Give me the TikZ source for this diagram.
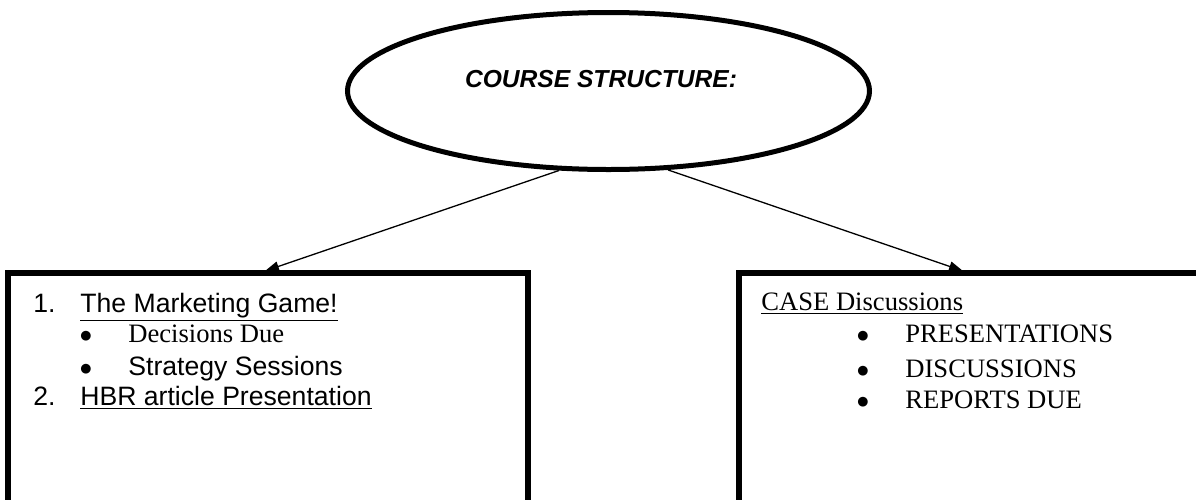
\documentclass[tikz,border=0pt]{standalone}
\usepackage{fontspec}
\setmainfont{Liberation Serif}
\newfontfamily\arialfont{Liberation Sans}
\newfontfamily\dejafont{DejaVu Sans}
\usetikzlibrary{shapes.geometric,arrows.meta}

\tikzset{
	bubble/.style={ellipse, draw, line width=2.5pt, minimum width=261pt, minimum height=78.5pt, inner sep=0pt},
	panel/.style={draw, line width=2.6pt, anchor=north west, inner sep=0pt, outer sep=0pt},
	link/.style={-{Triangle[length=7pt,width=5pt]}, line width=0.65pt},
	txt/.style={anchor=base west, inner sep=0pt, font=\fontsize{13.3}{16}\selectfont},
	sans/.style={txt, font=\arialfont\fontsize{13.3}{16}\selectfont},
	dot/.style={anchor=base, inner sep=0pt, yshift=1.2pt, font=\dejafont\fontsize{6.4}{8}\selectfont},
}

\begin{document}
\begin{tikzpicture}[x=0.5pt, y=-0.5pt]

		\useasboundingbox (0,0) rectangle (1196,499);
		\clip (0,0) rectangle (1196,499);

		\node[bubble] (course) at (608.5,91) {};
		\node[anchor=base, inner sep=0pt, font=\arialfont\bfseries\itshape\fontsize{12.3}{14}\selectfont] (title) at (601,87) {COURSE STRUCTURE:};

		\node[panel, minimum width=260pt, minimum height=130pt] (game) at (8,273) {}; %Marketing game
		\node[panel, minimum width=262pt, minimum height=130pt] (cases) at (739,273) {}; %Cases

		\coordinate (gamein) at (265,271);
		\coordinate (casesin) at (963,271);
		\draw[link] (course.238) -- (gamein);
		\draw[link] (course.307) -- (casesin);

		% left panel
		\node[sans] (num1) at (33,312) {1.};
		\node[sans] (game1) at (80,312) {\underline{The Marketing Game!}};
		\node[dot] (dot1) at (86,342) {●};
		\node[txt] (decide) at (128,342) {Decisions Due};
		\node[dot] (dot2) at (86,375) {●};
		\node[sans] (strategy) at (128,375) {Strategy Sessions};
		\node[sans] (num2) at (33,405) {2.};
		\node[sans] (hbr) at (80,405) {\underline{HBR article Presentation}};

		% right panel
		\node[txt] (casehead) at (761,310) {\underline{CASE Discussions}};
		\node[dot] (dot3) at (863,342) {●};
		\node[txt] (present) at (905,342) {PRESENTATIONS};
		\node[dot] (dot4) at (863,377) {●};
		\node[txt] (discuss) at (905,377) {DISCUSSIONS};
		\node[dot] (dot5) at (863,408) {●};
		\node[txt] (reports) at (905,408) {REPORTS DUE};

	\end{tikzpicture}
\end{document}
